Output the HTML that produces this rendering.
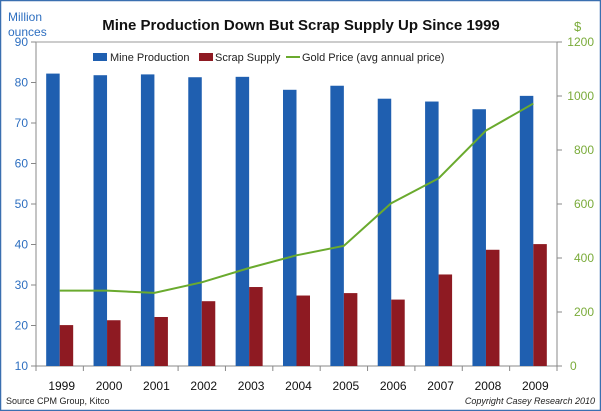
<!DOCTYPE html>
<html><head><meta charset="utf-8"><style>
body{margin:0;background:#fff;font-family:"Liberation Sans",sans-serif;}
#wrap{position:relative;width:601px;height:411px;overflow:hidden;}
</style></head><body>
<div id="wrap">
<svg id="chart" width="601" height="411" xmlns="http://www.w3.org/2000/svg">
<rect x="0.5" y="0.5" width="600" height="410" fill="#fff" stroke="#3a6fb0" stroke-width="1.5"/>
<text x="301" y="30" text-anchor="middle" font-size="15" font-weight="bold" fill="#111">Mine Production Down But Scrap Supply Up Since 1999</text>
<text x="8" y="21" font-size="12" fill="#2e6fc0">Million</text>
<text x="8" y="36" font-size="12" fill="#2e6fc0">ounces</text>
<text x="574" y="31" font-size="13" fill="#7aab3a">$</text>
<g id="axes"></g><g id="bars"></g><g id="line"></g>
<g>
<rect x="93" y="53" width="14" height="8" fill="#1f5fb0"/>
<text x="110" y="61" font-size="11" fill="#222">Mine Production</text>
<rect x="199" y="53" width="14" height="8" fill="#8e1a22"/>
<text x="215" y="61" font-size="11" fill="#222">Scrap Supply</text>
<line x1="286" y1="57" x2="300" y2="57" stroke="#6aaa2e" stroke-width="2"/>
<text x="302" y="61" font-size="11" fill="#222">Gold Price (avg annual price)</text>
</g>
<text x="6" y="404" font-size="9" fill="#222">Source CPM Group, Kitco</text>
<text x="595" y="404" text-anchor="end" font-size="9" font-style="italic" fill="#222">Copyright Casey Research 2010</text>
</svg>
</div>
<script>
const years=["1999","2000","2001","2002","2003","2004","2005","2006","2007","2008","2009"];
const mineProduction=[82.2,81.8,82,81.3,81.4,78.2,79.2,76,75.3,73.4,76.7];
const scrapSupply=[20.1,21.3,22.1,26,29.5,27.4,28,26.4,32.6,38.7,40.1];
const goldPrice=[279,279,271,310,363,410,445,603,695,872,972];
const leftTicks=[10,20,30,40,50,60,70,80,90];
const rightTicks=[0,200,400,600,800,1000,1200];
const NS="http://www.w3.org/2000/svg";
const L=36,R=557,T=42,B=366;
const yL=v=>B-(v-10)/80*(B-T);
const yR=v=>B-v/1200*(B-T);
const step=(R-L)/years.length;
const xC=i=>L+step*(i+0.5);
function mk(tag,attrs,parent){const e=document.createElementNS(NS,tag);for(const k in attrs)e.setAttribute(k,attrs[k]);parent.appendChild(e);return e;}
const ax=document.getElementById('axes'),bg=document.getElementById('bars'),lg=document.getElementById('line');
let e;
e=mk('line',{x1:L,y1:T,x2:L,y2:B,stroke:'#888'},ax);


e=mk('line',{x1:R,y1:T,x2:R,y2:B,stroke:'#888'},ax);


e=mk('line',{x1:L,y1:B,x2:R,y2:B,stroke:'#888'},ax);


e=mk('line',{x1:L,y1:T,x2:R,y2:T,stroke:'#999'},ax);


leftTicks.forEach(v=>{
 mk('line',{x1:L-5,y1:yL(v),x2:L,y2:yL(v),stroke:'#888'},ax);
 e=mk('text',{x:L-8,y:yL(v)+4,'text-anchor':'end','font-size':12,fill:'#2e6fc0'},ax);
 e.textContent=v;
 
 
});
rightTicks.forEach(v=>{
 mk('line',{x1:R,y1:yR(v),x2:R+5,y2:yR(v),stroke:'#888'},ax);
 e=mk('text',{x:v===0?R+13:R+37,y:yR(v)+4,'text-anchor':v===0?'start':'end','font-size':12,fill:'#7aab3a'},ax);
 e.textContent=v;
 
 
});
for(let i=0;i<=years.length;i++){mk('line',{x1:L+step*i,y1:B,x2:L+step*i,y2:B+5,stroke:'#888'},ax);}
years.forEach((y,i)=>{
 e=mk('text',{x:xC(i)+2,y:B+24,'text-anchor':'middle','font-size':12,fill:'#111'},ax);
 e.textContent=y;
 
 
 const w=13.5;
 e=mk('rect',{x:xC(i)-w,y:yL(mineProduction[i]),width:w,height:B-yL(mineProduction[i]),fill:'#1f5fb0'},bg);
 
 
 e=mk('rect',{x:xC(i),y:yL(scrapSupply[i]),width:w,height:B-yL(scrapSupply[i]),fill:'#8e1a22'},bg);
 
 
});
e=mk('polyline',{points:goldPrice.map((v,i)=>xC(i)+','+yR(v)).join(' '),fill:'none',stroke:'#6aaa2e','stroke-width':2},lg);


</script>
</body></html>
